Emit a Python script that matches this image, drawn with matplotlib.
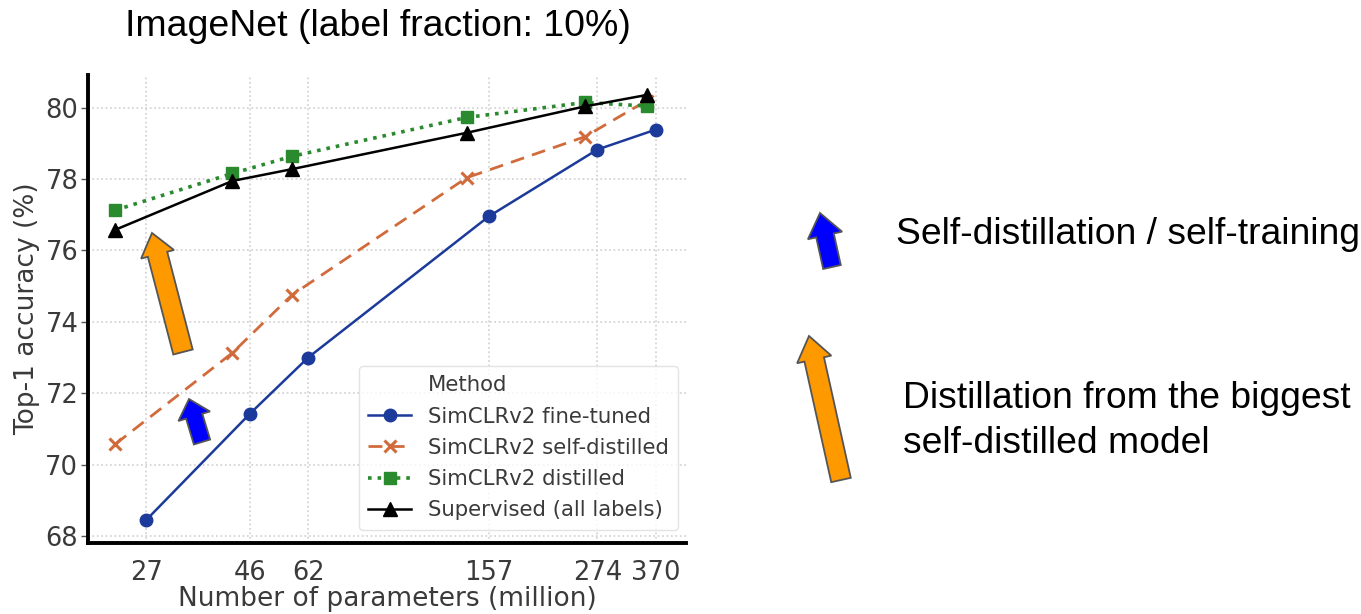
import matplotlib
matplotlib.use("Agg")
import matplotlib.pyplot as plt
from matplotlib.ticker import NullLocator, FixedLocator, FixedFormatter
from matplotlib.patches import FancyArrow

# Parameter counts (million) and top-1 accuracy (%)
params_finetuned = [27, 46, 62, 157, 274, 370]
acc_finetuned = [68.45, 71.43, 73.0, 76.96, 78.83, 79.39]

params_other = [23, 42, 57, 140, 257, 353]
acc_self_distilled = [70.57, 73.13, 74.75, 78.04, 79.19, 80.2]
acc_distilled = [77.13, 78.16, 78.64, 79.73, 80.15, 80.05]
acc_supervised = [76.58, 77.95, 78.28, 79.30, 80.04, 80.36]

x_ticks = [27, 46, 62, 157, 274, 370]
x_tick_labels = ["27", "46", "62", "157", "274", "370"]
y_ticks = [68, 70, 72, 74, 76, 78, 80]

W, H = 1361, 614
fig = plt.figure(figsize=(W / 100, H / 100), dpi=100)
fig.patch.set_facecolor("white")

ax = fig.add_axes([88 / W, 1 - 543 / H, (686 - 88) / W, (543 - 75) / H])
ax.set_xscale("log")
ax.set_xlim(20, 432)
ax.set_ylim(67.8, 80.92)

txt_col = "#3a3a3a"
# legend header drawn as an entry without a visible handle
ax.plot([], [], color="none", label="Method")
ax.plot(params_finetuned, acc_finetuned, "-o", color="#1c3a9a", lw=1.8,
        ms=9, label="SimCLRv2 fine-tuned", zorder=3)
ax.plot(params_other, acc_self_distilled, "--x", color="#d26b3c", lw=2.0,
        ms=8, mew=2.2, dashes=(5, 3), label="SimCLRv2 self-distilled", zorder=3)
ax.plot(params_other, acc_distilled, ":s", color="#2a8a2e", lw=2.6,
        ms=9, label="SimCLRv2 distilled", zorder=4)
ax.plot(params_other, acc_supervised, "-^", color="black", lw=1.8,
        ms=10, label="Supervised (all labels)", zorder=5)

ax.xaxis.set_major_locator(FixedLocator(x_ticks))
ax.xaxis.set_major_formatter(FixedFormatter(x_tick_labels))
ax.xaxis.set_minor_locator(NullLocator())
ax.set_yticks(y_ticks)
ax.grid(True, linestyle=":", color="#cfcfcf", lw=1.2)
ax.set_axisbelow(True)

for s in ("top", "right"):
    ax.spines[s].set_visible(False)
for s in ("left", "bottom"):
    ax.spines[s].set_linewidth(2.8)
    ax.spines[s].set_color("black")

ax.tick_params(axis="y", length=5, width=1, colors="#555555",
               labelcolor=txt_col, labelsize=18.5, pad=2)
ax.tick_params(axis="x", length=0, labelcolor=txt_col, labelsize=18.5, pad=12)

ax.set_xlabel("Number of parameters (million)", fontsize=19, color=txt_col,
              labelpad=0)
ax.set_ylabel("Top-1 accuracy (%)", fontsize=19, color=txt_col, labelpad=4)

leg = ax.legend(loc="lower right", bbox_to_anchor=(0.987, 0.028),
                borderaxespad=0, fontsize=15.3, frameon=True, fancybox=True,
                handlelength=2.0, handletextpad=0.8, borderpad=0.45,
                labelspacing=0.53)
leg.get_frame().set_edgecolor("#dddddd")
leg.get_frame().set_linewidth(1.0)
for t in leg.get_texts():
    t.set_color(txt_col)

# Overlay in pixel coordinates for the slide annotations
ov = fig.add_axes([0, 0, 1, 1], zorder=10)
ov.set_xlim(0, W)
ov.set_ylim(H, 0)
ov.axis("off")
ov.patch.set_alpha(0)


def arrow(tail, tip, color, width, head_width, head_length):
    ov.add_patch(FancyArrow(tail[0], tail[1], tip[0] - tail[0], tip[1] - tail[1],
                            width=width, head_width=head_width,
                            head_length=head_length, length_includes_head=True,
                            facecolor=color, edgecolor="#555555", lw=1.3))


arrow((183, 352), (152, 233), "#ff9900", 20, 34, 22)
arrow((202, 442), (189, 399), "#0000ff", 17, 33, 18)
arrow((832, 267), (820, 213), "#0000ff", 18, 35, 23)
arrow((841, 480), (809, 336), "#ff9900", 20, 35, 24)

sans = ["Liberation Sans", "DejaVu Sans"]
ov.text(378, 27, "ImageNet (label fraction: 10%)", ha="center", va="center",
        fontsize=26.9, family=sans, color="black")
ov.text(896, 234, "Self-distillation / self-training", ha="left", va="center",
        fontsize=26.8, family=sans, color="black")
ov.text(903, 421, "Distillation from the biggest\nself-distilled model", ha="left",
        va="center", fontsize=26.8, family=sans, color="black", linespacing=1.38)

fig.savefig("out.png", dpi=100, facecolor="white")
